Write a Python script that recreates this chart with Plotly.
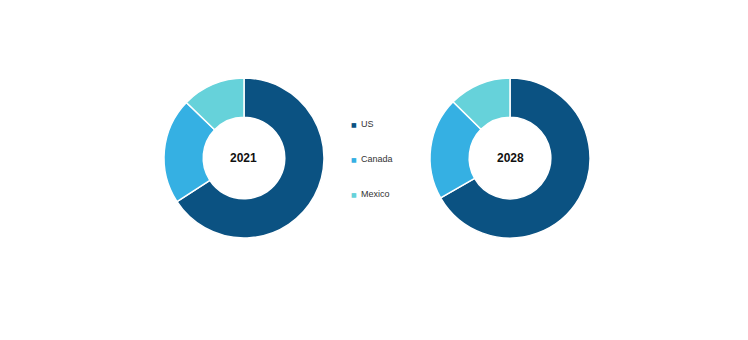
import plotly.graph_objects as go

categories = ["US", "Canada", "Mexico"]
years = ["2021", "2028"]
share_2021 = [65.8, 21.4, 12.8]
share_2028 = [66.7, 20.7, 12.6]
colors = ["#0b5282", "#35b0e3", "#66d2da"]

W, H = 748, 340
pie_domains = [
    dict(x=[164 / W, 324 / W], y=[(H - 238) / H, (H - 78) / H]),
    dict(x=[430 / W, 590 / W], y=[(H - 238) / H, (H - 78) / H]),
]

fig = go.Figure()
for vals, dom, yr in zip([share_2021, share_2028], pie_domains, years):
    fig.add_trace(go.Pie(
        labels=categories, values=vals, hole=0.51, sort=False,
        direction="clockwise", rotation=0,
        marker=dict(colors=colors, line=dict(color="white", width=1.5)),
        textinfo="none", hoverinfo="label+percent", domain=dom,
        showlegend=False,
    ))
    fig.add_annotation(
        text="<b>" + yr + "</b>", x=(dom["x"][0] + dom["x"][1]) / 2,
        y=(dom["y"][0] + dom["y"][1]) / 2, xref="paper", yref="paper",
        xanchor="center", yanchor="middle", showarrow=False,
        font=dict(family="Arial, Liberation Sans", size=12, color="#111"),
    )

# manual legend
leg_y = [124, 159, 194]
for cat, col, yy in zip(categories, colors, leg_y):
    fig.add_annotation(
        text="■", x=354 / W, y=(H - yy) / H, xref="paper", yref="paper",
        xanchor="center", yanchor="middle", showarrow=False,
        font=dict(family="DejaVu Sans", size=6, color=col),
    )
    fig.add_annotation(
        text=cat, x=359 / W, y=(H - yy) / H, xref="paper", yref="paper",
        xanchor="left", yanchor="middle", showarrow=False,
        font=dict(family="Arial, Liberation Sans", size=9, color="#333"),
    )

fig.update_layout(
    width=W, height=H, margin=dict(l=0, r=0, t=0, b=0),
    paper_bgcolor="white", plot_bgcolor="white",
)
fig.write_html("out.html")
